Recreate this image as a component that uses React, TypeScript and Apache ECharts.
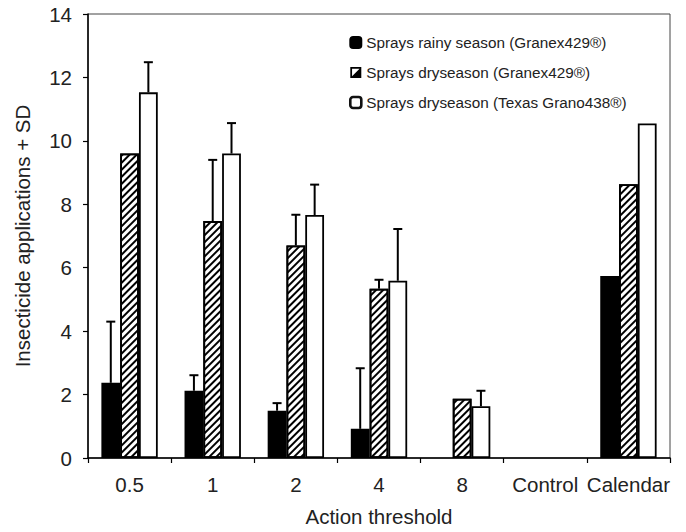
import React, { useEffect, useRef } from "react";
import * as echarts from "echarts";

const categories = ["0.5", "1", "2", "4", "8", "Control", "Calendar"];
const seriesNames = [
  "Sprays rainy season (Granex429®)",
  "Sprays dryseason (Granex429®)",
  "Sprays dryseason (Texas Grano438®)",
];
const rainyGranex = [2.37, 2.12, 1.49, 0.92, 0, 0, 5.74];
const rainyGranexSD = [1.93, 0.49, 0.24, 1.91, null, null, null];
const dryGranex = [9.6, 7.47, 6.7, 5.34, 1.87, 0, 8.63];
const dryGranexSD = [null, 1.93, 0.97, 0.28, null, null, null];
const dryTexas = [11.53, 9.6, 7.66, 5.59, 1.63, 0, 10.55];
const dryTexasSD = [0.95, 0.96, 0.96, 1.63, 0.49, null, null];
const yTicks = [0, 2, 4, 6, 8, 10, 12, 14];

const BAR_FRAC = 0.226;
const FONT = "'Liberation Sans', Arial, sans-serif";
const TXT = "#222";
const FS = 20.5;

const splitIcon =
  "path://M0,0 L10,0 L10,10 L0,10 Z M1.6,1.6 L1.6,8.4 L8.4,1.6 Z";

export default function App() {
  const ref = useRef<HTMLDivElement>(null);
  useEffect(() => {
    if (!ref.current) return;
    const chart = echarts.init(ref.current, undefined, { renderer: "svg" });
    const values = [rainyGranex, dryGranex, dryTexas];
    const sds = [rainyGranexSD, dryGranexSD, dryTexasSD];
    const errData: number[][] = [];
    values.forEach((vals, s) => {
      vals.forEach((v, i) => {
        const sd = sds[s][i];
        if (sd != null) errData.push([i, v + (sd as number), v, s]);
      });
    });
    const barData = (vals: number[]) => vals.map((v) => (v === 0 ? "-" : v));
    const barBase = {
      type: "bar" as const,
      barWidth: (BAR_FRAC * 100).toFixed(1) + "%",
      barGap: "0%",
    };
    chart.setOption({
      animation: false,
      textStyle: { fontFamily: FONT, color: TXT },
      grid: {
        left: 88,
        right: 16,
        top: 14,
        bottom: 68,
        show: true,
        borderColor: "#444",
        borderWidth: 1,
      },
      legend: {
        orient: "vertical",
        left: 344,
        top: 30,
        itemWidth: 11,
        itemHeight: 11,
        itemGap: 15,
        data: [
          { name: seriesNames[0], icon: "roundRect" },
          {
            name: seriesNames[1],
            icon: splitIcon,
            itemStyle: { color: "#000", borderWidth: 0, decal: "none" },
          },
          {
            name: seriesNames[2],
            icon: "roundRect",
            itemStyle: { color: "#fff", borderColor: "#111", borderWidth: 2.6 },
          },
        ],
        textStyle: { fontSize: 15.3, color: TXT, fontFamily: FONT },
      },
      xAxis: {
        type: "category",
        data: categories,
        name: "Action threshold",
        nameLocation: "middle",
        nameGap: 48,
        nameTextStyle: { fontSize: FS, color: TXT, fontFamily: FONT },
        axisLine: { lineStyle: { color: "#000", width: 1.5 } },
        axisTick: { show: true, length: 5, lineStyle: { color: "#000", width: 1.2 } },
        axisLabel: { fontSize: FS, color: TXT, margin: 16, fontFamily: FONT, interval: 0 },
      },
      yAxis: {
        type: "value",
        min: 0,
        max: 14,
        interval: 2,
        name: "Insecticide applications + SD",
        nameLocation: "middle",
        nameGap: 55,
        nameTextStyle: { fontSize: FS, color: TXT, fontFamily: FONT },
        axisLine: { show: true, lineStyle: { color: "#000", width: 1.5 } },
        axisTick: { show: true, length: 5, lineStyle: { color: "#000", width: 1.2 } },
        splitLine: { show: false },
        axisLabel: {
          fontSize: FS,
          color: TXT,
          margin: 16,
          fontFamily: FONT,
          formatter: (v: number) => (yTicks.includes(v) ? String(v) : ""),
        },
      },
      series: [
        {
          ...barBase,
          name: seriesNames[0],
          data: barData(rainyGranex),
          itemStyle: { color: "#000", borderColor: "#000", borderWidth: 1.8 },
        },
        {
          ...barBase,
          name: seriesNames[1],
          data: barData(dryGranex),
          itemStyle: {
            color: "#fff",
            borderColor: "#000",
            borderWidth: 1.8,
            decal: {
              symbol: "rect",
              symbolSize: 1,
              color: "#000",
              dashArrayX: [1, 0],
              dashArrayY: [2, 3],
              rotation: -Math.PI / 4,
            },
          },
        },
        {
          ...barBase,
          name: seriesNames[2],
          data: barData(dryTexas),
          itemStyle: { color: "#fff", borderColor: "#000", borderWidth: 1.8 },
        },
        {
          type: "custom",
          name: "err",
          z: 5,
          data: errData,
          encode: { x: 0, y: 1 },
          renderItem: (params: any, api: any) => {
            const cat = api.value(0);
            const top = api.value(1);
            const val = api.value(2);
            const s = api.value(3);
            const band = api.size([1, 0])[0];
            const bw = band * BAR_FRAC;
            const p0 = api.coord([cat, val]);
            const p1 = api.coord([cat, top]);
            const x = p0[0] + (s - 1) * bw;
            const cap = 4.5;
            return {
              type: "group",
              children: [
                {
                  type: "line",
                  shape: { x1: x, y1: p0[1], x2: x, y2: p1[1] },
                  style: { stroke: "#000", lineWidth: 2 },
                },
                {
                  type: "line",
                  shape: { x1: x - cap, y1: p1[1], x2: x + cap, y2: p1[1] },
                  style: { stroke: "#000", lineWidth: 2 },
                },
              ],
            };
          },
        },
      ],
    });
    return () => chart.dispose();
  }, []);
  return <div ref={ref} style={{ width: 686, height: 532, position: "absolute", left: 0, top: 0 }} />;
}
